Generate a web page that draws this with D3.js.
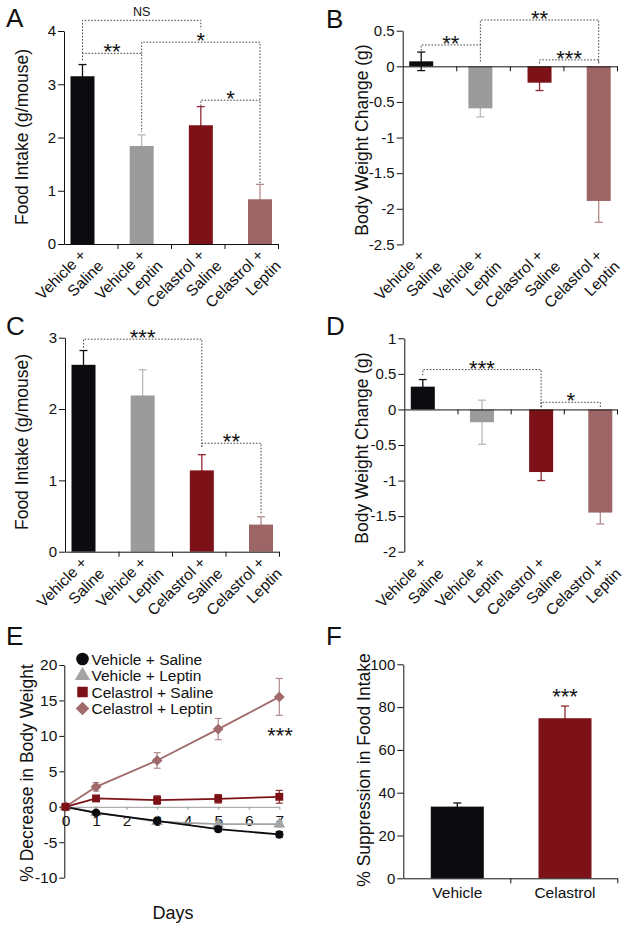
<!DOCTYPE html>
<html><head><meta charset="utf-8">
<script src="https://cdn.jsdelivr.net/npm/d3@7/dist/d3.min.js"></script>
<style>
html,body{margin:0;padding:0;background:#fff;}
svg{display:block;font-family:"Liberation Sans",Arial,Helvetica,sans-serif;}
</style></head>
<body>
<svg id="fig" width="629" height="928"></svg>
<script>
// ---------- DATA ----------
const groups = ["Vehicle + Saline","Vehicle + Leptin","Celastrol + Saline","Celastrol + Leptin"];
const catLines = [["Vehicle +","Saline"],["Vehicle +","Leptin"],["Celastrol +","Saline"],["Celastrol +","Leptin"]];

const foodIntakeA = [3.15, 1.84, 2.23, 0.84];
const errA        = [0.22, 0.21, 0.35, 0.28];
const ticksA      = [0, 1, 2, 3, 4];

const bwChangeB   = [0.07, -0.59, -0.23, -1.89];
const errB        = [0.13, 0.12, 0.11, 0.30];
const ticksB      = [0.5, 0, -0.5, -1, -1.5, -2, -2.5];

const foodIntakeC = [2.62, 2.19, 1.14, 0.38];
const errC        = [0.20, 0.36, 0.22, 0.11];
const ticksC      = [0, 1, 2, 3];

const bwChangeD   = [0.32, -0.18, -0.88, -1.45];
const errD        = [0.10, 0.31, 0.12, 0.16];
const ticksD      = [1, 0.5, 0, -0.5, -1, -1.5, -2];

// significance brackets: categories a,b; level / left-end / right-end in data units
const bracketsA = [
  {a:0, b:2, level:4.20, leftTo:3.58, rightTo:4.03, text:"NS"},
  {a:0, b:1, level:3.58, leftTo:3.45, rightTo:2.10, text:"**"},
  {a:1, b:3, level:3.79, leftTo:3.58, rightTo:1.14, text:"*"},
  {a:2, b:3, level:2.70, leftTo:2.59, rightTo:2.70, text:"*"}
];
const bracketsB = [
  {a:0, b:1, level:0.30, leftTo:0.22, rightTo:0.05, text:"**"},
  {a:1, b:3, level:0.65, leftTo:0.30, rightTo:0.04, text:"**"},
  {a:2, b:3, level:0.09, leftTo:0.04, rightTo:0.04, text:"***"}
];
const bracketsC = [
  {a:0, b:2, level:2.98, leftTo:2.86, rightTo:1.47, text:"***"},
  {a:2, b:3, level:1.52, leftTo:1.47, rightTo:0.53, text:"**"}
];
const bracketsD = [
  {a:0, b:2, level:0.56, leftTo:0.48, rightTo:0.03, text:"***"},
  {a:2, b:3, level:0.10, leftTo:0.03, rightTo:0.03, text:"*"}
];

// panel E: time course
const days       = [0, 1, 3, 5, 7];
const vehSal     = [0, -0.85, -2.0, -3.15, -3.9];
const vehSalErr  = [0, 0.20, 0.35, 0.35, 0.40];
const vehLep     = [0, -0.80, -2.1, -2.45, -2.45];
const vehLepErr  = [0, 0.20, 0.40, 0.35, 0.40];
const celSal     = [0, 1.18, 0.95, 1.13, 1.41];
const celSalErr  = [0, 0.40, 0.60, 0.60, 0.90];
const celLep     = [0, 2.82, 6.54, 10.96, 15.5];
const celLepErr  = [0, 0.60, 1.10, 1.50, 2.60];
const ticksEy    = [-10, -5, 0, 5, 10, 15, 20];
const ticksEx    = [0, 1, 2, 3, 4, 5, 6, 7];

// panel F
const fCats       = ["Vehicle", "Celastrol"];
const suppression = [33.5, 74.8];
const suppErr     = [1.7, 5.7];
const ticksF      = [0, 20, 40, 60, 80, 100];

// ---------- STYLE ----------
const barColors = ["#0c0c10", "#9b9b9b", "#7c1217", "#9d6566"];
const errColors = ["#111111", "#b9b9b9", "#8e2a30", "#b38b8c"];
const FONT = '"Liberation Sans",Arial,Helvetica,sans-serif';
const fmt = d => String(d);
const STAR = 22;

const svg = d3.select("#fig");

function styleAxis(g, fs) {
  g.attr("font-family", FONT).attr("font-size", fs);
  g.selectAll("text").attr("fill", "#111");
  g.selectAll("path,line").attr("stroke", "#111").attr("stroke-width", 1);
}

function panelLetter(t, x, y) {
  svg.append("text").attr("x", x).attr("y", y).attr("font-size", 26)
    .attr("font-family", FONT).attr("fill", "#111").text(t);
}

function yTitle(t, x, y) {
  svg.append("text").attr("transform", `translate(${x},${y}) rotate(-90)`)
    .attr("text-anchor", "middle").attr("font-size", 17.5).attr("font-family", FONT)
    .attr("fill", "#111").text(t);
}

function stars(t, x, y, fs) {
  svg.append("text").attr("x", x).attr("y", y).attr("text-anchor", "middle")
    .attr("font-size", fs || STAR).attr("font-family", FONT).attr("fill", "#111").text(t);
}

function barPanel(cfg) {
  const g = svg.append("g");
  const y = d3.scaleLinear().domain(cfg.domain).range(cfg.range);
  const idx = d3.range(cfg.values.length);
  const x = d3.scalePoint().domain(idx).range([cfg.axisX + 18.5, cfg.axisX + 196]);
  const xl = d3.scaleLinear().domain([0, 4]).range([cfg.axisX, cfg.axisEnd]);
  const y0 = y(0);
  const bottom = y(d3.min(cfg.ticks));

  // error bars (behind bars)
  idx.forEach(i => {
    const v = cfg.values[i], e = cfg.errs[i], cx = x(i);
    const eg = g.append("g").attr("stroke", errColors[i]).attr("stroke-width", 1.3);
    eg.append("line").attr("x1", cx).attr("x2", cx).attr("y1", y(v - e)).attr("y2", y(v + e));
    eg.append("line").attr("x1", cx - 4).attr("x2", cx + 4).attr("y1", y(v + e)).attr("y2", y(v + e));
    eg.append("line").attr("x1", cx - 4).attr("x2", cx + 4).attr("y1", y(v - e)).attr("y2", y(v - e));
  });
  // bars
  g.selectAll("rect.bar").data(idx).join("rect").attr("class", "bar")
    .attr("x", i => x(i) - 12).attr("width", 24)
    .attr("y", i => Math.min(y(cfg.values[i]), y0))
    .attr("height", i => Math.abs(y(cfg.values[i]) - y0))
    .attr("fill", i => barColors[i]);

  // axes
  const ya = g.append("g").attr("transform", `translate(${cfg.axisX},0)`)
    .call(d3.axisLeft(y).tickValues(cfg.ticks).tickFormat(fmt).tickSize(6).tickPadding(2).tickSizeOuter(0));
  styleAxis(ya, 15);
  const xa = g.append("g").attr("transform", `translate(0,${y0})`)
    .call(d3.axisBottom(xl).tickValues([1, 2, 3, 4]).tickFormat("").tickSize(5).tickSizeOuter(0));
  styleAxis(xa, 15);

  // category labels
  idx.forEach(i => {
    const t = g.append("text")
      .attr("transform", `translate(${x(i) + 4.5},${bottom + 12}) rotate(-45)`)
      .attr("text-anchor", "end").attr("font-size", 15.5).attr("font-family", FONT).attr("fill", "#111");
    t.append("tspan").attr("x", 0).attr("dy", 0).text(catLines[i][0]);
    t.append("tspan").attr("x", 4.5).attr("dy", 20).text(catLines[i][1]);
  });

  // significance brackets
  cfg.brackets.forEach(b => {
    const xa_ = x(b.a), xb = x(b.b), ly = y(b.level);
    g.append("path")
      .attr("d", `M${xa_},${y(b.leftTo)}V${ly}H${xb}V${y(b.rightTo)}`)
      .attr("fill", "none").attr("stroke", "#333").attr("stroke-width", 0.9)
      .attr("stroke-dasharray", "1.6,1.6");
    if (b.text === "NS") stars("NS", (xa_ + xb) / 2, ly - 4, 12.5);
    else stars(b.text, (xa_ + xb) / 2, ly + 6, STAR);
  });
}

// ---------- PANELS A-D ----------
panelLetter("A", 6, 27);
barPanel({axisX: 64, axisEnd: 278, domain: [0, 4], range: [244, 31], ticks: ticksA,
  values: foodIntakeA, errs: errA, brackets: bracketsA});
yTitle("Food Intake (g/mouse)", 28, 137);

panelLetter("B", 326, 28);
barPanel({axisX: 402.7, axisEnd: 617, domain: [-2.5, 0.5], range: [244.4, 30.7], ticks: ticksB,
  values: bwChangeB, errs: errB, brackets: bracketsB});
yTitle("Body Weight Change (g)", 368, 140);

panelLetter("C", 6, 335);
barPanel({axisX: 65, axisEnd: 279, domain: [0, 3], range: [551.7, 337.7], ticks: ticksC,
  values: foodIntakeC, errs: errC, brackets: bracketsC});
yTitle("Food Intake (g/mouse)", 28, 442);

panelLetter("D", 326, 335);
barPanel({axisX: 404.3, axisEnd: 617, domain: [-2, 1], range: [551.7, 338.3], ticks: ticksD,
  values: bwChangeD, errs: errD, brackets: bracketsD});
yTitle("Body Weight Change (g)", 368, 448);

// ---------- PANEL E ----------
panelLetter("E", 6, 645);
(function () {
  const g = svg.append("g");
  const x = d3.scaleLinear().domain([0, 7]).range([65.5, 279.3]);
  const y = d3.scaleLinear().domain([-10, 20]).range([877.7, 665]);

  const xa = g.append("g").attr("transform", `translate(0,${y(0)})`)
    .call(d3.axisBottom(x).tickValues(ticksEx).tickFormat(fmt).tickSize(3).tickPadding(5).tickSizeOuter(0));
  styleAxis(xa, 15.5);
  xa.selectAll("path,line").attr("stroke", "#9a9a9a");
  const ya = g.append("g").attr("transform", `translate(64.3,0)`)
    .call(d3.axisLeft(y).tickValues(ticksEy).tickFormat(fmt).tickSize(5).tickPadding(2).tickSizeOuter(0));
  styleAxis(ya, 15.5);

  const series = [
    {name: groups[1], vals: vehLep, errs: vehLepErr, color: "#a3a3a3", ecolor: "#b0b0b0", shape: "triangle"},
    {name: groups[0], vals: vehSal, errs: vehSalErr, color: "#0c0c10", ecolor: "#111", shape: "circle"},
    {name: groups[3], vals: celLep, errs: celLepErr, color: "#a06a6b", ecolor: "#b08a8b", shape: "diamond"},
    {name: groups[2], vals: celSal, errs: celSalErr, color: "#7c1217", ecolor: "#8e2a30", shape: "square"}
  ];
  const line = d3.line().x((d, i) => x(days[i])).y(d => y(d));
  const sym = (shape, big) => {
    if (shape === "circle") return d3.symbol(d3.symbolCircle, big ? 125 : 55)();
    if (shape === "triangle") return d3.symbol(d3.symbolTriangle, big ? 100 : 60)();
    if (shape === "square") return d3.symbol(d3.symbolSquare, big ? 110 : 62)();
    return d3.symbol(d3.symbolSquare, big ? 92 : 58)();
  };
  const rot = s => s === "diamond" ? " rotate(45)" : "";

  series.forEach(s => {
    const sg = g.append("g");
    s.vals.forEach((v, i) => {
      const e = s.errs[i]; if (!e) return;
      const cx = x(days[i]);
      const eg = sg.append("g").attr("stroke", s.ecolor).attr("stroke-width", 1.2);
      eg.append("line").attr("x1", cx).attr("x2", cx).attr("y1", y(v - e)).attr("y2", y(v + e));
      eg.append("line").attr("x1", cx - 3.5).attr("x2", cx + 3.5).attr("y1", y(v + e)).attr("y2", y(v + e));
      eg.append("line").attr("x1", cx - 3.5).attr("x2", cx + 3.5).attr("y1", y(v - e)).attr("y2", y(v - e));
    });
    sg.append("path").attr("d", line(s.vals)).attr("fill", "none")
      .attr("stroke", s.color).attr("stroke-width", 1.8);
    sg.selectAll("path.pt").data(s.vals).join("path").attr("class", "pt")
      .attr("d", sym(s.shape, false))
      .attr("transform", (d, i) => `translate(${x(days[i])},${y(d)})${rot(s.shape)}`)
      .attr("fill", s.color);
  });

  // legend
  const legend = [
    {name: groups[0], color: "#0c0c10", shape: "circle"},
    {name: groups[1], color: "#a3a3a3", shape: "triangle"},
    {name: groups[2], color: "#7c1217", shape: "square"},
    {name: groups[3], color: "#a06a6b", shape: "diamond"}
  ];
  const ly = d3.scalePoint().domain(d3.range(4)).range([659, 708.5]);
  legend.forEach((l, i) => {
    g.append("path").attr("d", sym(l.shape, true))
      .attr("transform", `translate(82.5,${ly(i)})${rot(l.shape)}`).attr("fill", l.color);
    g.append("text").attr("x", 91.5).attr("y", ly(i)).attr("dy", "0.36em")
      .attr("font-size", 15.5).attr("font-family", FONT).attr("fill", "#111").text(l.name);
  });

  stars("***", 280, 743, STAR);
  svg.append("text").attr("x", 173).attr("y", 919).attr("text-anchor", "middle")
    .attr("font-size", 18).attr("font-family", FONT).attr("fill", "#111").text("Days");
  yTitle("% Decrease in Body Weight", 33, 773);
})();

// ---------- PANEL F ----------
panelLetter("F", 326, 645);
(function () {
  const g = svg.append("g");
  const y = d3.scaleLinear().domain([0, 100]).range([878.3, 664.3]);
  const x = d3.scalePoint().domain(fCats).range([457.3, 565]);
  const xl = d3.scaleLinear().domain([0, 2]).range([403.3, 617.3]);
  const fCol = [barColors[0], barColors[2]];
  const fErrCol = [errColors[0], errColors[2]];

  fCats.forEach((c, i) => {
    const v = suppression[i], e = suppErr[i], cx = x(c);
    const eg = g.append("g").attr("stroke", fErrCol[i]).attr("stroke-width", 1.3);
    eg.append("line").attr("x1", cx).attr("x2", cx).attr("y1", y(v - e)).attr("y2", y(v + e));
    eg.append("line").attr("x1", cx - 4).attr("x2", cx + 4).attr("y1", y(v + e)).attr("y2", y(v + e));
  });
  g.selectAll("rect.bar").data(fCats).join("rect").attr("class", "bar")
    .attr("x", c => x(c) - 26.5).attr("width", 53)
    .attr("y", (c, i) => y(suppression[i])).attr("height", (c, i) => y(0) - y(suppression[i]))
    .attr("fill", (c, i) => fCol[i]);

  const ya = g.append("g").attr("transform", `translate(403.3,0)`)
    .call(d3.axisLeft(y).tickValues(ticksF).tickFormat(fmt).tickSize(6).tickPadding(2).tickSizeOuter(0));
  styleAxis(ya, 15);
  const xa = g.append("g").attr("transform", `translate(0,${y(0)})`)
    .call(d3.axisBottom(xl).tickValues([1, 2]).tickFormat("").tickSize(5).tickSizeOuter(0));
  styleAxis(xa, 15);
  fCats.forEach(c => {
    g.append("text").attr("x", x(c)).attr("y", 898).attr("text-anchor", "middle")
      .attr("font-size", 15.5).attr("font-family", FONT).attr("fill", "#111").text(c);
  });
  stars("***", 565, 704, STAR);
  yTitle("% Suppression in Food Intake", 370, 770);
})();
</script>
</body></html>
